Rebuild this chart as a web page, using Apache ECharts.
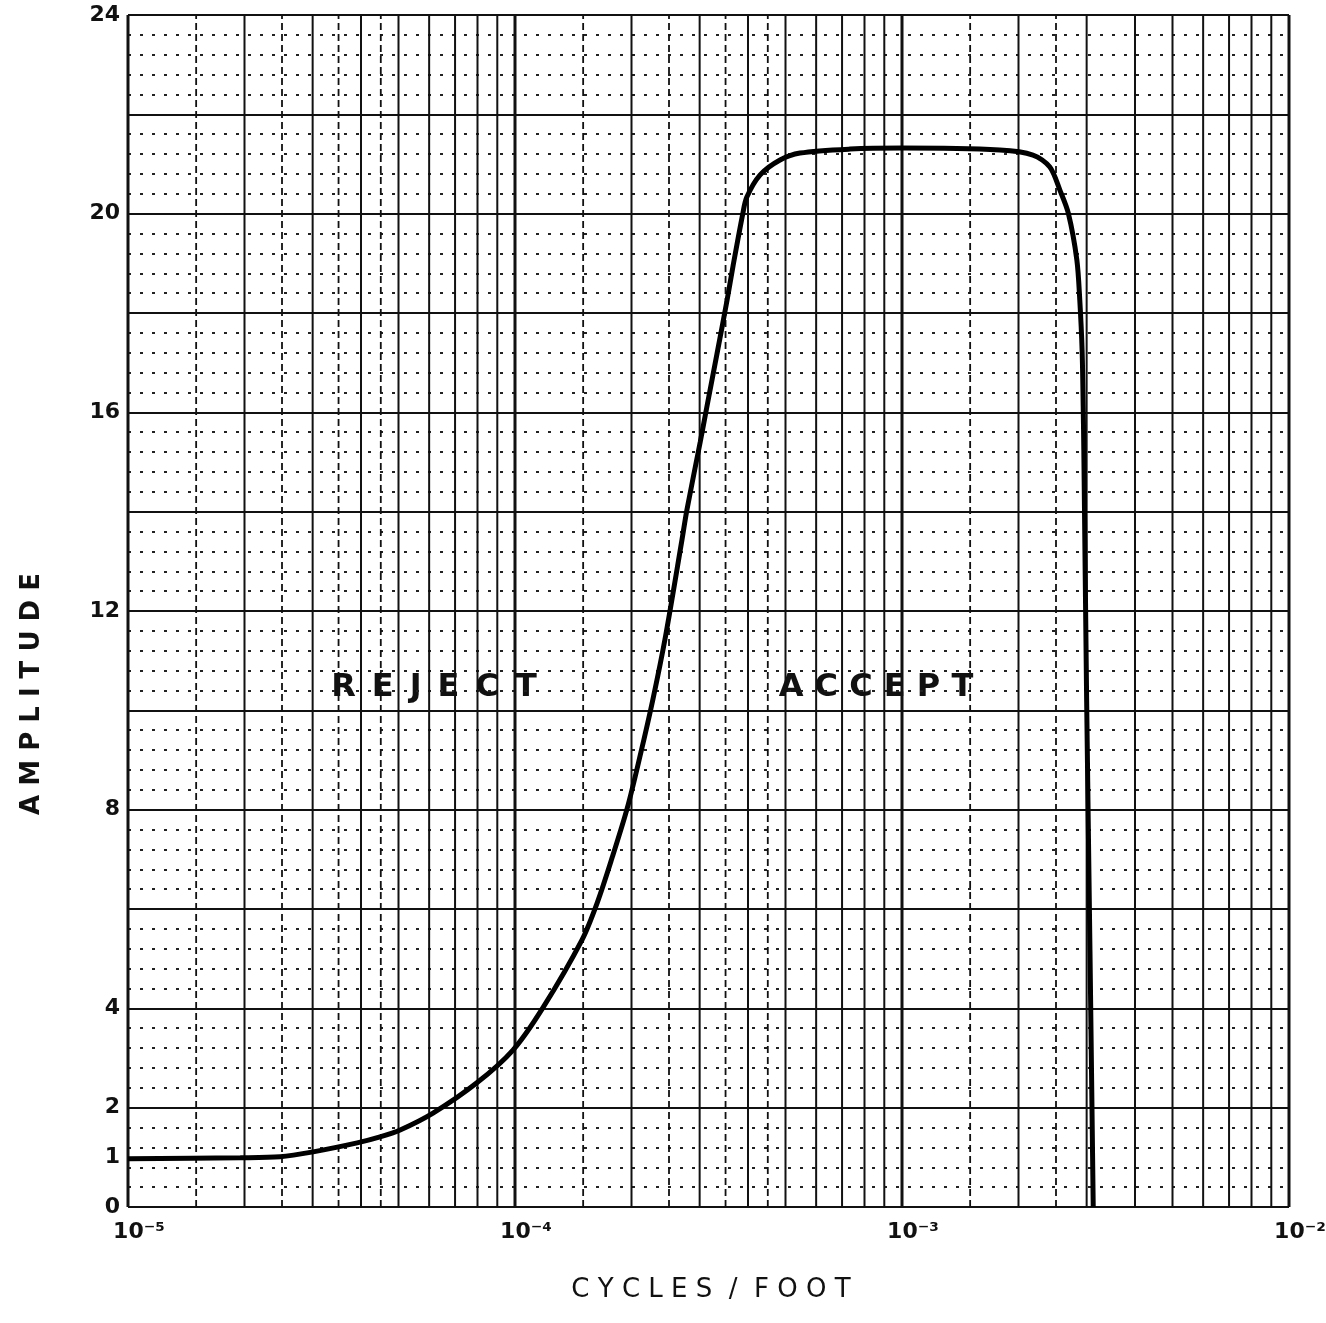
<!DOCTYPE html>
<html><head><meta charset="utf-8">
<script src="https://cdn.jsdelivr.net/npm/echarts/dist/echarts.min.js"></script>
<style>html,body{margin:0;padding:0;background:#fff}#c{width:1326px;height:1323px}</style>
</head><body><div id="c"></div>
<script>
// ---- data ----
const freq = [1.0e-5, 1.95e-5, 2.47e-5, 3.01e-5, 3.91e-5, 4.48e-5, 5.05e-5, 6.14e-5, 7.97e-5, 9.88e-5,
  1.18e-4, 1.49e-4, 1.63e-4, 1.78e-4, 1.95e-4, 2.10e-4, 2.27e-4, 2.45e-4, 2.70e-4,
  2.78e-4, 3.01e-4, 3.13e-4, 3.33e-4, 3.53e-4, 3.66e-4, 3.88e-4, 3.97e-4, 4.30e-4, 4.84e-4,
  5.45e-4, 7.34e-4, 1.0e-3, 1.79e-3, 2.18e-3, 2.41e-3, 2.56e-3, 2.69e-3, 2.83e-3, 2.88e-3,
  2.92e-3, 2.94e-3, 2.95e-3, 3.00e-3, 3.06e-3, 3.12e-3];
const amp = [0.97, 0.99, 1.01, 1.11, 1.29, 1.41, 1.55, 1.89, 2.50, 3.16,
  4.01, 5.38, 6.12, 7.02, 8.03, 9.05, 10.21, 11.50, 13.43,
  14.03, 15.40, 16.10, 17.20, 18.25, 18.95, 20.01, 20.33, 20.78, 21.08,
  21.22, 21.30, 21.32, 21.28, 21.18, 20.94, 20.47, 20.01, 19.07, 18.26,
  17.25, 16.05, 15.24, 10.20, 5.16, 0];

const xTickLabels = {'-5': '10\u207B\u2075', '-4': '10\u207B\u2074', '-3': '10\u207B\u00B3', '-2': '10\u207B\u00B2'};
const yTickLabels = [0, 1, 2, 4, 8, 12, 16, 20, 24];
const annotations = ['R\u2002E\u2002J\u2002E\u2002C\u2002T', 'A C C E P T'];
const xTitle = 'C Y C L E S  /  F O O T';
const yTitle = 'A M P L I T U D E';

// grid line positions (log-paper rulings)
const xDecadeLines = [1e-5, 1e-4, 1e-3, 1e-2];
const xSolidLines = [2e-5, 3e-5, 4e-5, 5e-5, 6e-5, 7e-5, 8e-5, 9e-5,
  2e-4, 3e-4, 4e-4, 5e-4, 6e-4, 7e-4, 8e-4, 9e-4,
  2e-3, 3e-3, 4e-3, 5e-3, 6e-3, 7e-3, 8e-3, 9e-3];
const xDashedLines = [1.5e-5, 2.5e-5, 3.5e-5, 4.5e-5, 1.5e-4, 2.5e-4, 3.5e-4, 4.5e-4, 1.5e-3, 2.5e-3];
const yMin = 0, yMax = 24;

const ink = '#111';
const F = '"DejaVu Sans", "Liberation Sans", sans-serif';

function vLines(values, width, dash) {
  return {
    type: 'custom', silent: true, z: 1, clip: false,
    data: values.map(v => [v, yMin]),
    encode: {x: 0, y: 1},
    renderItem: (params, api) => {
      const p0 = api.coord([api.value(0), yMin]);
      const p1 = api.coord([api.value(0), yMax]);
      return {type: 'line', shape: {x1: p0[0], y1: p0[1], x2: p1[0], y2: p1[1]},
        style: {stroke: ink, lineWidth: width, lineDash: dash}};
    }
  };
}

const chart = echarts.init(document.getElementById('c'), null, {renderer: 'canvas'});
chart.setOption({
  animation: false,
  backgroundColor: '#fff',
  grid: {left: 128, right: 37, top: 15, bottom: 116, outerBoundsMode: 'none', containLabel: false},
  xAxis: {
    type: 'log', logBase: 10, min: 1e-5, max: 1e-2,
    axisLine: {show: false}, axisTick: {show: false}, splitLine: {show: false},
    axisLabel: {
      formatter: v => xTickLabels[String(Math.round(Math.log10(v)))] || '',
      fontFamily: F, fontSize: 22, fontWeight: 'bold', color: ink, margin: 14,
      padding: [0, 0, 0, 22], hideOverlap: false
    }
  },
  yAxis: [
    {type: 'value', min: yMin, max: yMax, interval: 1,
     axisLine: {show: false}, axisTick: {show: false}, splitLine: {show: false},
     axisLabel: {formatter: v => yTickLabels.indexOf(v) >= 0 ? String(v) : '',
       fontFamily: F, fontSize: 22, fontWeight: 'bold', color: ink, margin: 8}},
    {type: 'value', min: yMin, max: yMax, interval: 0.4,
     axisLine: {show: false}, axisTick: {show: false}, axisLabel: {show: false},
     splitLine: {show: true, lineStyle: {color: '#222', width: 2, type: [3, 9]}}},
    {type: 'value', min: yMin, max: yMax, interval: 2,
     axisLine: {show: false}, axisTick: {show: false}, axisLabel: {show: false},
     splitLine: {show: true, lineStyle: {color: ink, width: 2.2, type: 'solid'}}}
  ],
  series: [
    vLines(xDashedLines, 1.8, [7, 4]),
    vLines(xSolidLines, 2, null),
    vLines(xDecadeLines, 3, null),
    {type: 'line', z: 5, silent: true, showSymbol: false, smooth: 0.3,
     data: freq.map((f, i) => [f, amp[i]]),
     lineStyle: {color: '#000', width: 5}}
  ],
  graphic: [
    {type: 'text', x: 32, y: 694, rotation: Math.PI / 2,
     style: {text: yTitle, font: 'bold 26px ' + F, fill: ink, align: 'center', verticalAlign: 'middle', textAlign: 'center', textVerticalAlign: 'middle'}},
    {type: 'text', x: 711, y: 1290,
     style: {text: xTitle, font: '26px ' + F, fill: ink, align: 'center', verticalAlign: 'middle', textAlign: 'center', textVerticalAlign: 'middle'}},
    {type: 'text', x: 434, y: 688,
     style: {text: annotations[0], font: 'bold 32px ' + F, fill: ink, align: 'center', verticalAlign: 'middle', textAlign: 'center', textVerticalAlign: 'middle'}},
    {type: 'text', x: 876, y: 688,
     style: {text: annotations[1], font: 'bold 32px ' + F, fill: ink, align: 'center', verticalAlign: 'middle', textAlign: 'center', textVerticalAlign: 'middle'}}
  ]
});
</script>
</body></html>
